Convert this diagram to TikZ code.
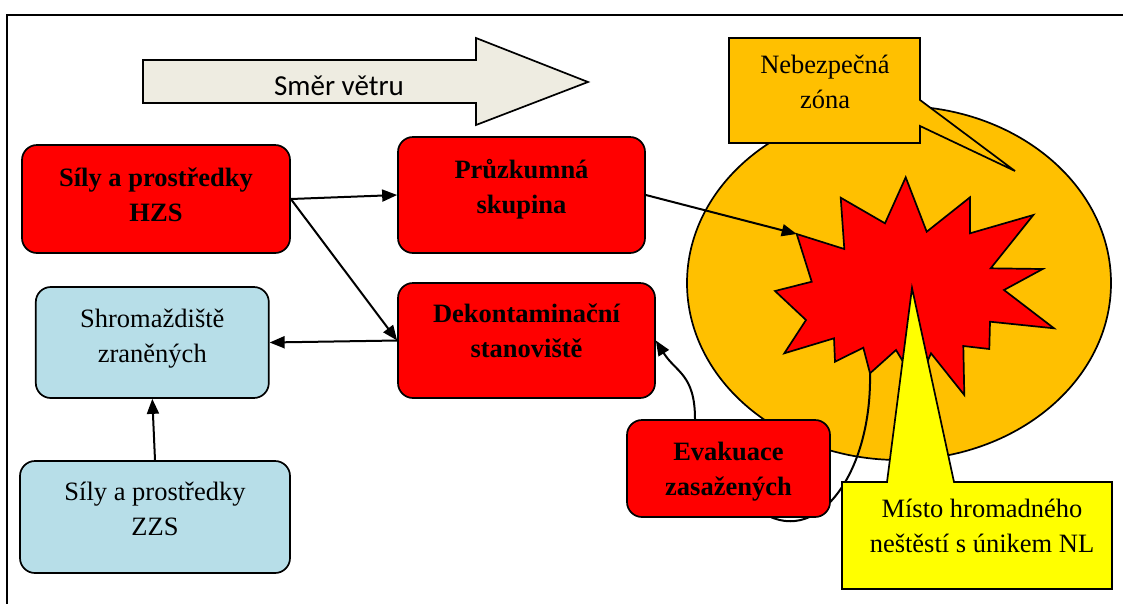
\documentclass[tikz,border=0pt]{standalone}
\usepackage{fontspec}
\setmainfont{Liberation Serif}
\newfontfamily\windfont{Carlito}
\usetikzlibrary{arrows.meta}

\definecolor{hzsred}{RGB}{255, 0, 0}
\definecolor{zzsblue}{RGB}{183, 222, 232}
\definecolor{zoneorange}{RGB}{255, 192, 0}
\definecolor{spotyellow}{RGB}{255, 255, 0}
\definecolor{windgrey}{RGB}{238, 236, 225}

% two centred lines, baseline on the first one
\newcommand{\twolines}[2]{\begin{tabular}[t]{@{}c@{}}#1\\#2\end{tabular}}

\begin{document}
\begin{tikzpicture}[x=1pt, y=-1pt,
  redbox/.style={draw, line width=1.7pt, fill=hzsred, rounded corners=15pt,
                 font=\fontsize{26.5}{35}\selectfont\bfseries, text height=0pt},
  bluebox/.style={draw, line width=1.7pt, fill=zzsblue, rounded corners=15pt,
                  font=\fontsize{26.5}{35}\selectfont, text height=0pt},
  plaintext/.style={font=\fontsize{26.5}{35}\selectfont, anchor=base},
  conn/.style={line width=2pt, -{Triangle[length=15pt, width=12pt]}},
  outline/.style={draw, line width=1.7pt, line join=miter}]
  \useasboundingbox (0,0) rectangle (1123,603);

  % frame
  \draw[line width=2.5pt] (7,15) rectangle (1140,620);

  % wind direction
  \path[outline, fill=windgrey] (143,60) -- (476,60) -- (476,38) -- (588,82)
        -- (476,125) -- (476,103) -- (143,103) -- cycle;
  \node[anchor=base, font=\windfont\fontsize{29}{35}\selectfont] (wind) at (339,95) {Směr větru};

  % danger zone and the spill itself
  \path[outline, fill=zoneorange] (899,283) ellipse [x radius=212, y radius=177];
  \coordinate (hit) at (796.7,234);
  \coordinate (leak) at (870,373.3);
  \path[outline, fill=hzsred] (905.7,177.3) -- (926.7,231.7) -- (970,197.3) -- (970,233.3)
        -- (1033.3,215) -- (990.7,268.3) -- (1042.7,269) -- (1004,290) -- (1054,328.3)
        -- (990,321.7) -- (989.3,349) -- (963.3,346) -- (964.3,395) -- (931,353.3)
        -- (917,385) -- (896,350) -- (leak) -- (863.3,347.7) -- (835,361.7)
        -- (834,338.3) -- (784.3,353.3) -- (806,320) -- (775,291) -- (811.7,281.7)
        -- (hit) -- (844.3,249) -- (840.7,197.7) -- (885,223.3) -- cycle;

  \path[outline, fill=zoneorange] (729,38) -- (920,38) -- (920,100) -- (1015,171)
        -- (920,126) -- (920,143) -- (729,143) -- cycle;
  \node[plaintext] (zone) at (825,73) {\twolines{Nebezpečná}{zóna}};

  % evacuation path runs behind its box
  \coordinate (evakin) at (752.5,505);
  \draw[line width=2pt] (leak) .. controls (872,480) and (810,556) .. (evakin);
  \node[redbox, minimum width=203pt, minimum height=97pt, text depth=17pt]
        (evak) at (728.5,468.5) {\twolines{Evakuace}{zasažených}};

  \path[outline, fill=spotyellow] (842,482) -- (887,482) -- (912,288) -- (954,482)
        -- (1112,482) -- (1112,589) -- (842,589) -- cycle;
  \node[plaintext] (spot) at (982,517) {\twolines{Místo hromadného}{neštěstí s únikem NL}};

  % units and places
  \node[redbox, minimum width=268pt, minimum height=108pt, text depth=26pt]
        (hzs) at (156,199) {\twolines{Síly a prostředky}{HZS}};
  \node[redbox, minimum width=247pt, minimum height=116pt, text depth=34pt]
        (pruz) at (521.5,195) {\twolines{Průzkumná}{skupina}};
  \node[redbox, minimum width=257pt, minimum height=115pt, text depth=37pt]
        (dekont) at (526.5,340.5) {\twolines{Dekontaminační}{stanoviště}};
  \node[bluebox, minimum width=233pt, minimum height=111pt, text depth=31pt]
        (shrom) at (152.3,342.5) {\twolines{Shromaždiště}{zraněných}};
  \node[bluebox, minimum width=270pt, minimum height=112pt, text depth=34pt]
        (zzs) at (155,517) {\twolines{Síly a prostředky}{ZZS}};

  \draw[conn] (hzs.east) -- (pruz.west);
  \draw[conn] (hzs.east) -- (dekont.west);
  \draw[conn] (dekont.west) -- (shrom.east);
  \draw[conn] (zzs.north) -- (shrom.south);
  \draw[conn] (pruz.east) -- (hit);
  \draw[conn] ([xshift=-33.5pt]evak.north) .. controls +(0,-45) and +(20,32) .. (dekont.east);
\end{tikzpicture}
\end{document}
